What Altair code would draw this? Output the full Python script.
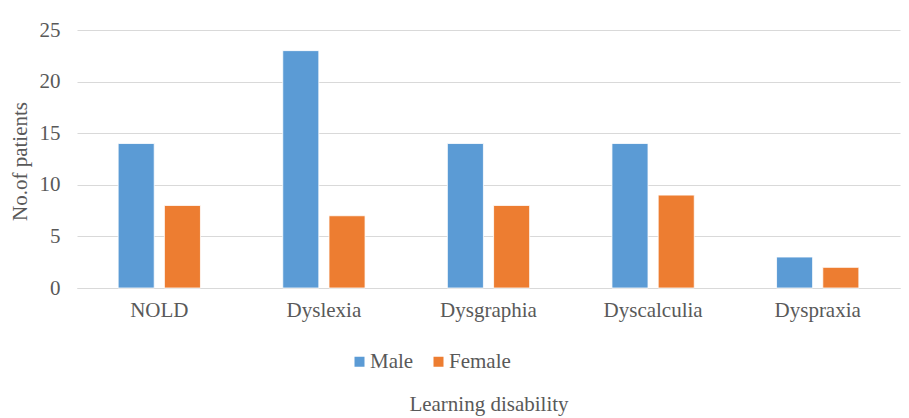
import altair as alt
import pandas as pd

categories = ["NOLD", "Dyslexia", "Dysgraphia", "Dyscalculia", "Dyspraxia"]
male = [14, 23, 14, 14, 3]
female = [8, 7, 8, 9, 2]
series = ["Male", "Female"]
colors = ["#5B9BD5", "#ED7D31"]

rows = []
for c, m, f in zip(categories, male, female):
    rows.append({"category": c, "gender": "Male", "value": m})
    rows.append({"category": c, "gender": "Female", "value": f})
df = pd.DataFrame(rows)

font = "Liberation Serif"
txt = "#595959"
fs = 21

chart = alt.Chart(df).mark_bar(stroke="white", strokeWidth=0.8).encode(
    x=alt.X("category:N", sort=categories,
            scale=alt.Scale(paddingInner=0.5, paddingOuter=0.25),
            axis=alt.Axis(title="Learning disability", labelAngle=0, labelPadding=11,
                          ticks=False, domain=True, domainColor="#D9D9D9",
                          labelFontSize=fs, labelFont=font, labelColor=txt,
                          titleFontSize=fs, titleFont=font, titleColor=txt,
                          titleFontWeight="normal", titleY=122, titleBaseline="alphabetic")),
    xOffset=alt.XOffset("gender:N", sort=series,
                        scale=alt.Scale(paddingInner=0.22, paddingOuter=0)),
    y=alt.Y("value:Q", scale=alt.Scale(domain=[0, 25]),
            axis=alt.Axis(title="No.of patients", values=[0, 5, 10, 15, 20, 25],
                          ticks=False, domain=False, gridColor="#D9D9D9",
                          labelPadding=17, labelFontSize=fs, labelFont=font,
                          labelColor=txt, titleFontSize=fs, titleFont=font,
                          titleColor=txt, titleFontWeight="normal",
                          titleX=-57, titleY=131, titleAngle=270,
                          titleAlign="center", titleBaseline="middle")),
    color=alt.Color("gender:N", sort=series,
                    scale=alt.Scale(domain=series, range=colors),
                    legend=alt.Legend(title=None, orient="none", direction="horizontal",
                                      legendX=272, legendY=321, symbolType="square",
                                      symbolSize=100, symbolStrokeWidth=0,
                                      labelFont=font, labelFontSize=fs,
                                      labelColor=txt, labelOffset=0, columnPadding=14)),
).properties(
    width=823, height=258,
    autosize=alt.AutoSizeParams(type="none"),
    padding={"left": 77, "top": 30, "right": 9, "bottom": 130},
).configure(background="white", font=font).configure_view(stroke=None).configure_legend(
    labelFont=font, labelFontSize=fs, labelColor=txt
)

chart.save("out.html", embed_options={"renderer": "svg", "actions": False})
